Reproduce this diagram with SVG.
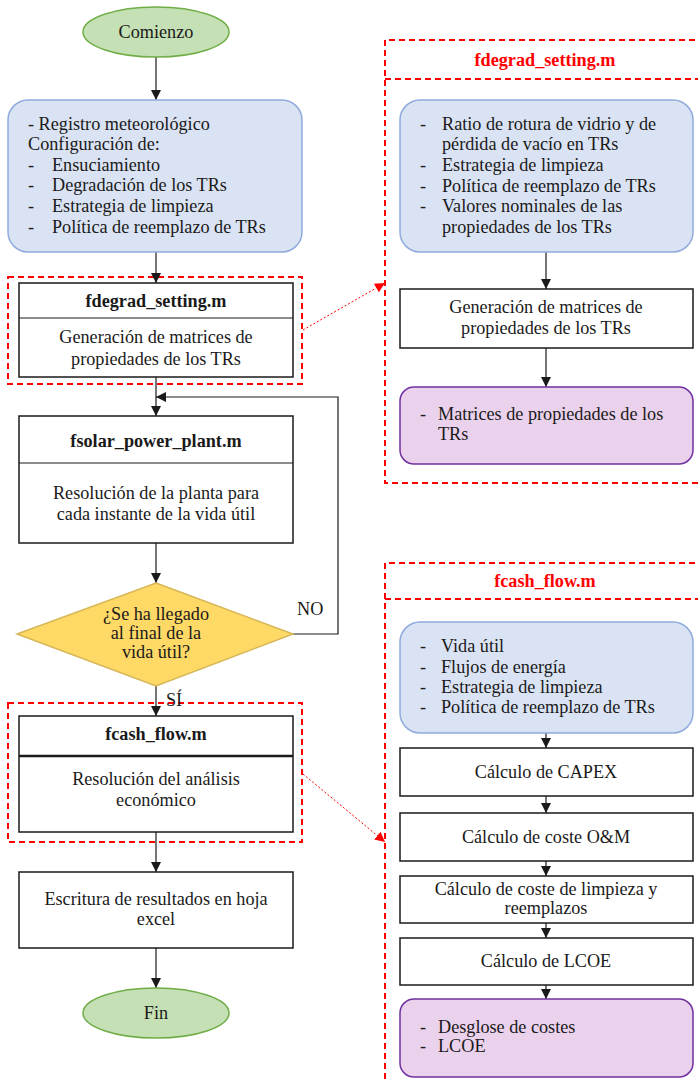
<svg xmlns="http://www.w3.org/2000/svg" width="698" height="1082" viewBox="0 0 698 1082">
<style>
  text { font-family: "Liberation Serif", "DejaVu Serif", serif; font-size: 18.2px; fill: #1a1a1a; }
  .c { text-anchor: middle; }
  .b { font-weight: bold; }
  .red { fill: #ff0000; }
  .term { fill: #c5e0b4; stroke: #70ad47; stroke-width: 1.5; }
  .inp { fill: #dae3f3; stroke: #8faadc; stroke-width: 1.5; }
  .out { fill: #ead1ec; stroke: #7030a0; stroke-width: 1.5; }
  .proc { fill: #ffffff; stroke: #1a1a1a; stroke-width: 1.5; }
  .dec { fill: #ffd966; stroke: #d6b656; stroke-width: 1.5; }
  .frame { fill: none; stroke: #ff0000; stroke-width: 2; stroke-dasharray: 6 4; }
  .flow { fill: none; stroke: #1a1a1a; stroke-width: 1.2; marker-end: url(#arr); }
  .link { fill: none; stroke: #ff0000; stroke-width: 1; stroke-dasharray: 2 2; marker-end: url(#arrRed); }
</style>
<defs>
  <marker id="arr" viewBox="0 0 10 10" refX="10" refY="5" markerWidth="10" markerHeight="10" markerUnits="userSpaceOnUse" orient="auto">
    <path d="M0,0 L10,5 L0,10 z" fill="#1a1a1a"/>
  </marker>
  <marker id="arrRed" viewBox="0 0 10 10" refX="10" refY="5" markerWidth="10" markerHeight="10" markerUnits="userSpaceOnUse" orient="auto">
    <path d="M0,0 L10,5 L0,10 z" fill="#ff0000"/>
  </marker>
</defs>

<!-- module frames -->
<g id="frames">
  <rect class="frame" x="8" y="277" width="294" height="107"/>
  <rect class="frame" x="8" y="703" width="294" height="139"/>
  <path class="frame" d="M705,40 H385 V483 H705 M385,79 H705"/>
  <path class="frame" d="M705,563 H385 V1090 M385,599 H705"/>
  <text class="c b red" x="545" y="66">fdegrad_setting.m</text>
  <text class="c b red" x="545" y="587">fcash_flow.m</text>
</g>

<!-- connectors -->
<g id="connectors">
  <line class="flow" x1="156" y1="57" x2="156" y2="100"/>
  <line class="flow" x1="156" y1="252" x2="156" y2="283"/>
  <line class="flow" x1="156" y1="377" x2="156" y2="416"/>
  <line class="flow" x1="156" y1="543" x2="156" y2="583"/>
  <polyline class="flow" points="293,634 338,634 338,397 156,397"/>
  <line class="flow" x1="156" y1="686" x2="156" y2="716"/>
  <line class="flow" x1="156" y1="832" x2="156" y2="872"/>
  <line class="flow" x1="156" y1="948" x2="156" y2="988"/>
  <line class="flow" x1="546" y1="252" x2="546" y2="289"/>
  <line class="flow" x1="546" y1="348" x2="546" y2="387"/>
  <line class="flow" x1="546" y1="733" x2="546" y2="748"/>
  <line class="flow" x1="546" y1="796" x2="546" y2="813"/>
  <line class="flow" x1="546" y1="861" x2="546" y2="876"/>
  <line class="flow" x1="546" y1="923" x2="546" y2="938"/>
  <line class="flow" x1="546" y1="985" x2="546" y2="999"/>
  <line class="link" x1="303" y1="330" x2="385" y2="283"/>
  <line class="link" x1="303" y1="774" x2="385" y2="842"/>
  <text x="297" y="615">NO</text>
  <text x="166" y="706">SÍ</text>
</g>

<g id="start">
  <ellipse class="term" cx="156" cy="32" rx="73" ry="25"/>
  <text class="c" x="156" y="38">Comienzo</text>
</g>

<g id="inputs">
  <rect class="inp" x="8" y="100" width="294" height="152" rx="20"/>
  <text x="28" y="130">- Registro meteorológico</text>
  <text x="28" y="150">Configuración de:</text>
  <text x="28" y="171">-</text><text x="52" y="171">Ensuciamiento</text>
  <text x="28" y="191">-</text><text x="52" y="191">Degradación de los TRs</text>
  <text x="28" y="212">-</text><text x="52" y="212">Estrategia de limpieza</text>
  <text x="28" y="233">-</text><text x="52" y="233">Política de reemplazo de TRs</text>
</g>

<g id="fdegrad">
  <rect class="proc" x="19" y="283" width="274" height="94"/>
  <line x1="19" y1="318" x2="293" y2="318" stroke="#1a1a1a" stroke-width="1.2"/>
  <text class="c b" x="156" y="307">fdegrad_setting.m</text>
  <text class="c" x="156" y="343">Generación de matrices de</text>
  <text class="c" x="156" y="365">propiedades de los TRs</text>
</g>

<g id="fsolar">
  <rect class="proc" x="19" y="416" width="274" height="127"/>
  <line x1="19" y1="463" x2="293" y2="463" stroke="#1a1a1a" stroke-width="1.2"/>
  <text class="c b" x="156" y="447">fsolar_power_plant.m</text>
  <text class="c" x="156" y="499">Resolución de la planta para</text>
  <text class="c" x="156" y="520">cada instante de la vida útil</text>
</g>

<g id="decision">
  <polygon class="dec" points="156,583 293,634 156,686 17,634"/>
  <text class="c" x="156" y="620">¿Se ha llegado</text>
  <text class="c" x="156" y="639">al final de la</text>
  <text class="c" x="156" y="658">vida útil?</text>
</g>

<g id="fcash">
  <rect class="proc" x="19" y="716" width="274" height="116"/>
  <line x1="19" y1="756" x2="293" y2="756" stroke="#1a1a1a" stroke-width="2.5"/>
  <text class="c b" x="156" y="740">fcash_flow.m</text>
  <text class="c" x="156" y="785">Resolución del análisis</text>
  <text class="c" x="156" y="806">económico</text>
</g>

<g id="excel">
  <rect class="proc" x="19" y="872" width="274" height="76"/>
  <text class="c" x="156" y="905">Escritura de resultados en hoja</text>
  <text class="c" x="156" y="925">excel</text>
</g>

<g id="end">
  <ellipse class="term" cx="156" cy="1013" rx="73" ry="25"/>
  <text class="c" x="156" y="1019">Fin</text>
</g>

<g id="fdegrad-inputs">
  <rect class="inp" x="400" y="100" width="293" height="152" rx="20"/>
  <text x="420" y="130">-</text><text x="442" y="130">Ratio de rotura de vidrio y de</text>
  <text x="442" y="150">pérdida de vacío en TRs</text>
  <text x="420" y="171">-</text><text x="442" y="171">Estrategia de limpieza</text>
  <text x="420" y="192">-</text><text x="442" y="192">Política de reemplazo de TRs</text>
  <text x="420" y="212">-</text><text x="442" y="212">Valores nominales de las</text>
  <text x="442" y="233">propiedades de los TRs</text>
</g>

<g id="fdegrad-gen">
  <rect class="proc" x="400" y="289" width="293" height="59"/>
  <text class="c" x="546" y="313">Generación de matrices de</text>
  <text class="c" x="546" y="334">propiedades de los TRs</text>
</g>

<g id="fdegrad-out">
  <rect class="out" x="400" y="387" width="293" height="77" rx="14"/>
  <text x="420" y="420">-</text><text x="438" y="420">Matrices de propiedades de los</text>
  <text x="438" y="440">TRs</text>
</g>

<g id="fcash-inputs">
  <rect class="inp" x="400" y="622" width="293" height="111" rx="20"/>
  <text x="420" y="652">-</text><text x="441" y="652">Vida útil</text>
  <text x="420" y="673">-</text><text x="441" y="673">Flujos de energía</text>
  <text x="420" y="693">-</text><text x="441" y="693">Estrategia de limpieza</text>
  <text x="420" y="713">-</text><text x="441" y="713">Política de reemplazo de TRs</text>
</g>

<g id="capex">
  <rect class="proc" x="400" y="748" width="293" height="48"/>
  <text class="c" x="546" y="778">Cálculo de CAPEX</text>
</g>

<g id="om">
  <rect class="proc" x="400" y="813" width="293" height="48"/>
  <text class="c" x="546" y="843">Cálculo de coste O&amp;M</text>
</g>

<g id="cleaning">
  <rect class="proc" x="400" y="876" width="293" height="47"/>
  <text class="c" x="546" y="895">Cálculo de coste de limpieza y</text>
  <text class="c" x="546" y="914">reemplazos</text>
</g>

<g id="lcoe">
  <rect class="proc" x="400" y="938" width="293" height="47"/>
  <text class="c" x="546" y="967">Cálculo de LCOE</text>
</g>

<g id="fcash-out">
  <rect class="out" x="400" y="999" width="293" height="78" rx="14"/>
  <text x="420" y="1033">-</text><text x="438" y="1033">Desglose de costes</text>
  <text x="420" y="1052">-</text><text x="438" y="1052">LCOE</text>
</g>
</svg>
